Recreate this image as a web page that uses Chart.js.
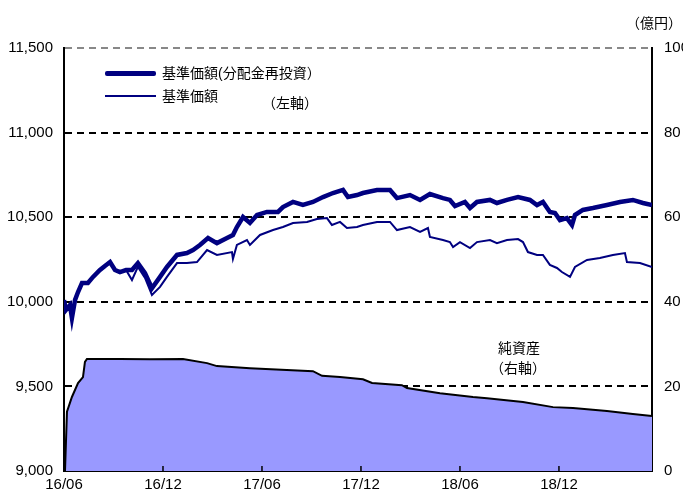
<!DOCTYPE html>
<html>
<head>
<meta charset="utf-8">
<script src="https://cdn.jsdelivr.net/npm/chart.js@4"></script>
<style>
  body { margin: 0; background: #fff; }
  #wrap { position: relative; width: 683px; height: 496px; font-family: 'Liberation Sans', 'Noto Sans CJK JP', sans-serif; }
  .lbl { position: absolute; font-size: 14px; color: #000; white-space: nowrap; line-height: 1; }
  .leg { position: absolute; left: 105px; width: 51px; background: #000080; }
</style>
</head>
<body>
<div id="wrap">
  <canvas id="grafica" width="683" height="496"></canvas>
  <div class="leg" style="top:71px;height:5px;border-radius:2px;"></div>
  <div class="lbl" style="left:162px;top:66px;">基準価額(分配金再投資）</div>
  <div class="leg" style="top:95px;height:2px;"></div>
  <div class="lbl" style="left:162px;top:89px;">基準価額</div>
  <div class="lbl" style="left:262px;top:96px;">（左軸）</div>
  <div class="lbl" style="left:498px;top:341px;">純資産</div>
  <div class="lbl" style="left:490px;top:361px;">（右軸）</div>
  <div class="lbl" style="left:626px;top:16px;">（億円）</div>
</div>
<script>
// 月数 (16/06 = 0) と値
var tickLabels = ['16/06', '16/12', '17/06', '17/12', '18/06', '18/12'];
var tickMonths = [0, 6, 12, 18, 24, 30];

// 基準価額(分配金再投資)
var reinvMonths = [0, 0.12, 0.36, 0.48, 0.67, 0.85, 1.09, 1.45, 1.76, 2.18, 2.48, 2.79, 3.09, 3.39, 3.76, 4.12, 4.48, 4.91, 5.33, 5.82,
  6.24, 6.85, 7.45, 7.82, 8.24, 8.73, 9.27, 9.88, 10.24, 10.48, 10.85, 11.27, 11.70, 12.30, 12.97, 13.27, 13.88, 14.48, 15.09, 15.70,
  16.30, 16.91, 17.21, 17.76, 18.12, 18.97, 19.76, 20.18, 20.97, 21.58, 22.18, 22.97, 23.39, 23.70, 24.30, 24.61, 25.03, 25.82, 26.24, 26.85,
  27.52, 28.24, 28.67, 29.03, 29.45, 29.76, 30.06, 30.48, 30.79, 30.97, 31.45, 32.06, 32.91, 33.70, 34.48, 35.09, 35.64];
var reinvValues = [10010, 9952, 9981, 9904, 10011, 10058, 10111, 10111, 10147, 10188, 10212, 10235, 10188, 10176, 10188, 10188, 10229, 10170, 10080, 10147,
  10206, 10277, 10288, 10306, 10336, 10377, 10347, 10377, 10395, 10442, 10501, 10466, 10513, 10531, 10531, 10560, 10590, 10572, 10590, 10619,
  10643, 10661, 10619, 10631, 10643, 10661, 10661, 10613, 10631, 10602, 10637, 10613, 10602, 10566, 10590, 10554, 10590, 10602, 10584, 10602,
  10619, 10602, 10572, 10590, 10531, 10525, 10483, 10495, 10454, 10513, 10543, 10554, 10572, 10590, 10602, 10584, 10572];

// 基準価額
var navMonths = [0, 0.12, 0.36, 0.48, 0.67, 0.85, 1.09, 1.45, 1.76, 2.18, 2.48, 2.79, 3.09, 3.39, 3.76, 4.12, 4.48, 4.91, 5.33, 5.82,
  6.24, 6.85, 7.45, 8.06, 8.67, 9.27, 10.18, 10.24, 10.48, 11.09, 11.27, 11.88, 12.67, 13.27, 13.88, 14.73, 15.33, 15.94, 16.24, 16.73,
  17.15, 17.76, 18.12, 18.97, 19.76, 20.18, 20.97, 21.58, 22.06, 22.18, 22.97, 23.39, 23.58, 24.00, 24.61, 25.03, 25.82, 26.24, 26.85, 27.52,
  27.82, 28.12, 28.67, 29.03, 29.45, 29.88, 30.18, 30.67, 30.97, 31.70, 32.48, 33.27, 34.00, 34.12, 34.91, 35.64];
var navValues = [10010, 9952, 9981, 9904, 10011, 10058, 10111, 10111, 10147, 10188, 10212, 10235, 10188, 10176, 10188, 10129, 10206, 10141, 10040, 10088,
  10147, 10229, 10229, 10235, 10306, 10277, 10294, 10253, 10336, 10365, 10336, 10395, 10424, 10442, 10466, 10472, 10489, 10495, 10454, 10472,
  10436, 10442, 10454, 10472, 10472, 10424, 10442, 10413, 10436, 10383, 10365, 10353, 10324, 10353, 10318, 10353, 10365, 10347, 10365, 10371,
  10353, 10294, 10277, 10277, 10218, 10200, 10176, 10147, 10206, 10247, 10259, 10277, 10288, 10235, 10229, 10206];

// 純資産 (億円)
var assetMonths = [0.06, 0.18, 0.48, 0.85, 1.15, 1.27, 1.39, 3.39, 5.21, 7.21, 8.67, 9.27, 11.27, 15.09, 15.64, 16.73, 18.12, 18.67, 20.48, 20.79,
  22.79, 24.79, 25.64, 27.82, 29.64, 30.85, 32.91, 34.48, 35.64];
var assetValues = [0, 14.0, 17.5, 20.8, 22.2, 25.8, 26.5, 26.5, 26.4, 26.5, 25.5, 24.8, 24.3, 23.6, 22.5, 22.2, 21.7, 20.8, 20.3, 19.6,
  18.4, 17.5, 17.2, 16.3, 15.1, 14.9, 14.2, 13.5, 13.0];

function toPoints(xs, ys) {
    return xs.map(function (x, i) { return { x: x, y: ys[i] }; });
}

var fuente = "'Liberation Sans', 'Noto Sans CJK JP', sans-serif";

// 目盛り(内向き)
var innerTicks = {
    id: 'innerTicks',
    afterDatasetsDraw: function (chart) {
        var ctx = chart.ctx, sx = chart.scales.x, bottom = chart.chartArea.bottom;
        ctx.save();
        ctx.strokeStyle = '#000';
        ctx.lineWidth = 1.5;
        tickMonths.forEach(function (m) {
            if (m === 0) return;
            var px = sx.getPixelForValue(m);
            ctx.beginPath();
            ctx.moveTo(px, bottom);
            ctx.lineTo(px, bottom - 5);
            ctx.stroke();
        });
        ctx.restore();
    }
};

var ctx = document.getElementById('grafica').getContext('2d');
var chart = new Chart(ctx, {
    type: 'line',
    data: {
        datasets: [{
            label: '基準価額(分配金再投資）',
            data: toPoints(reinvMonths, reinvValues),
            yAxisID: 'y',
            borderColor: '#000080',
            borderWidth: 4.5,
            pointRadius: 0,
            tension: 0,
            fill: false
        }, {
            label: '基準価額',
            data: toPoints(navMonths, navValues),
            yAxisID: 'y',
            borderColor: '#000080',
            borderWidth: 2,
            pointRadius: 0,
            tension: 0,
            fill: false
        }, {
            label: '純資産',
            data: toPoints(assetMonths, assetValues),
            yAxisID: 'y1',
            borderColor: '#000',
            borderWidth: 2,
            backgroundColor: '#9999ff',
            pointRadius: 0,
            tension: 0,
            fill: 'origin'
        }]
    },
    options: {
        responsive: false,
        animation: false,
        layout: { padding: { top: 48, left: 0, right: 0, bottom: 0 } },
        plugins: { legend: { display: false }, tooltip: { enabled: false } },
        scales: {
            x: {
                type: 'linear',
                min: 0,
                max: 35.64,
                afterFit: function (s) { s.height = 25; },
                afterBuildTicks: function (s) {
                    s.ticks = tickMonths.map(function (m) { return { value: m }; });
                },
                ticks: {
                    autoSkip: false,
                    maxRotation: 0,
                    padding: 5,
                    color: '#000',
                    font: { family: fuente, size: 15 },
                    callback: function (v) {
                        var i = tickMonths.indexOf(v);
                        return i >= 0 ? tickLabels[i] : '';
                    }
                },
                grid: { display: false, drawTicks: false },
                border: { display: true, color: '#000', width: 2 }
            },
            y: {
                position: 'left',
                min: 9000,
                max: 11500,
                afterFit: function (s) { s.width = 64; },
                ticks: {
                    stepSize: 500,
                    padding: 11,
                    color: '#000',
                    font: { family: fuente, size: 15 },
                    callback: function (v) { return v.toLocaleString('en-US'); }
                },
                grid: {
                    drawTicks: false,
                    lineWidth: 2,
                    color: function (c) {
                        if (c.tick.value === 9000) return 'rgba(0,0,0,0)';
                        if (c.tick.value === 11500) return '#888';
                        return '#000';
                    }
                },
                border: { display: true, color: '#000', width: 2, dash: [7, 5] }
            },
            y1: {
                position: 'right',
                min: 0,
                max: 100,
                afterFit: function (s) { s.width = 31; },
                ticks: {
                    stepSize: 20,
                    padding: 12,
                    color: '#000',
                    font: { family: fuente, size: 15 }
                },
                grid: { drawOnChartArea: false, drawTicks: false },
                border: { display: true, color: '#000', width: 2 }
            }
        }
    },
    plugins: [innerTicks]
});
</script>
</body>
</html>
